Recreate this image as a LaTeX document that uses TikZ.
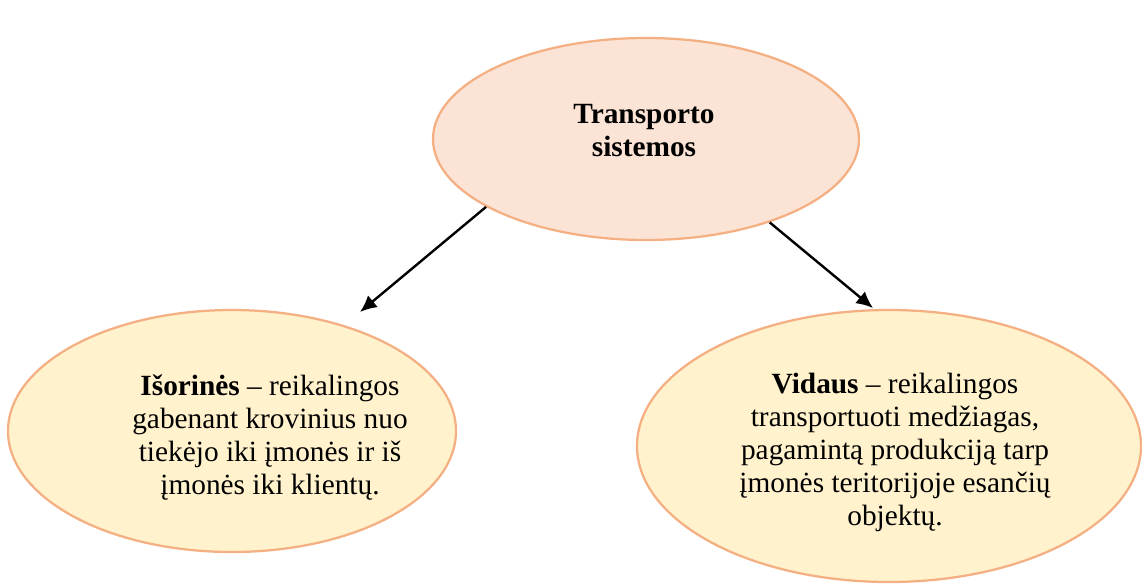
\documentclass[tikz,border=0pt]{standalone}
\usepackage{fontspec}
\setmainfont{Liberation Serif}
\usetikzlibrary{
    shapes.geometric,
    arrows.meta
}
\definecolor{peachfill}{HTML}{FBE4D5}
\definecolor{creamfill}{HTML}{FFF2CC}
\definecolor{orangeline}{HTML}{F4B083}
\tikzset {
    topbox/.style = {ellipse, draw = orangeline, line width = 1.7pt, fill = peachfill, inner sep = 0pt},
    leafbox/.style = {ellipse, draw = orangeline, line width = 1.7pt, fill = creamfill, inner sep = 0pt},
    boxtext/.style = {align = center, inner sep = 0pt, font = \fontsize{22}{24.75}\selectfont},
    link/.style = {line width = 1.8pt, arrows = {-Latex[length = 12.5pt, width = 11.5pt]}}
}
\begin{document}
\begin{tikzpicture}[x = 0.75pt, y = -0.75pt]
            \useasboundingbox (0, 0) rectangle (1142, 583);
            \node (sys) [topbox, minimum width = 319.5pt, minimum height = 151.5pt] at (646, 139) {};
            \node (isor) [leafbox, minimum width = 336pt, minimum height = 181.5pt] at (232, 431) {};
            \node (vid) [leafbox, minimum width = 378pt, minimum height = 204pt] at (889, 446) {};
            \node (sys-t) [boxtext] at (644, 131) {\textbf{Transporto}\\\textbf{sistemos}};
            \node (isor-t) [boxtext] at (270, 438) {\textbf{Išorinės} -- reikalingos\\gabenant krovinius nuo\\tiekėjo iki įmonės ir iš\\įmonės iki klientų.};
            \node (vid-t) [boxtext] at (895, 452) {\textbf{Vidaus} -- reikalingos\\transportuoti medžiagas,\\pagamintą produkciją tarp\\įmonės teritorijoje esančių\\objektų.};
            \coordinate (isor-tip) at (360, 312);
            \coordinate (vid-tip) at (873, 308);
            \draw [link] (sys.203) -- (isor-tip);
            \draw [link] (sys.326) -- (vid-tip);
        \end{tikzpicture}
\end{document}
